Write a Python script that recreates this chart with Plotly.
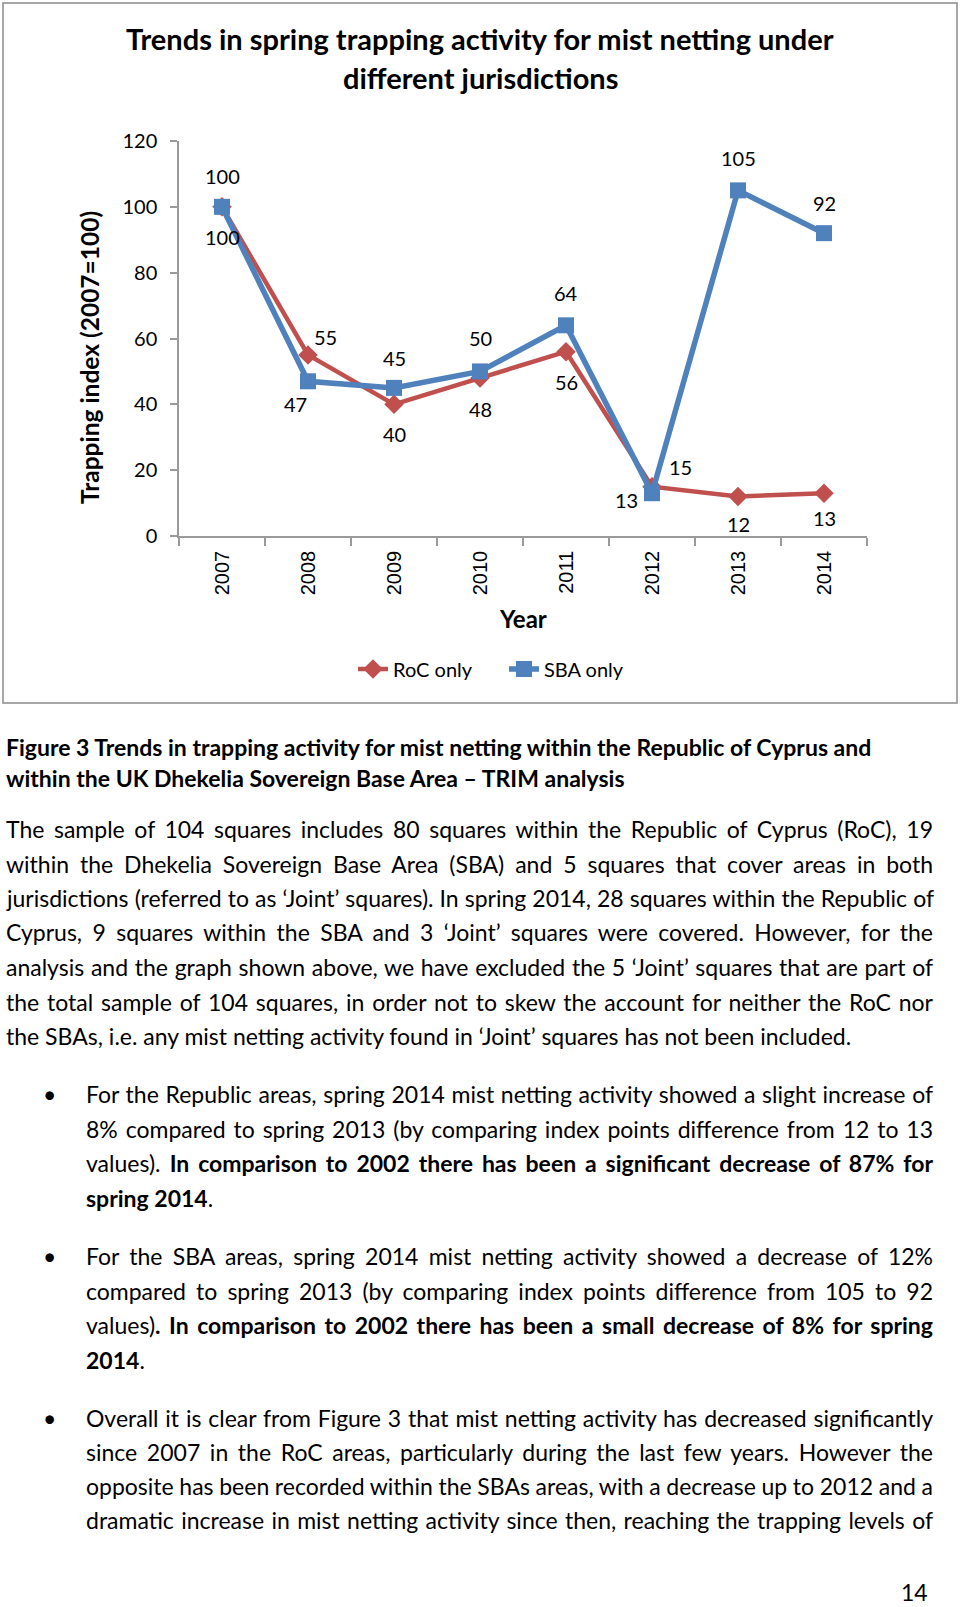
import json
import plotly.graph_objects as go

years = ["2007", "2008", "2009", "2010", "2011", "2012", "2013", "2014"]
roc_only = [100, 55, 40, 48, 56, 15, 12, 13]
sba_only = [100, 47, 45, 50, 64, 13, 105, 92]
y_ticks = [0, 20, 40, 60, 80, 100, 120]

# label offsets (px) relative to marker: (dx, dy screen-down)
roc_off = [(0, 30), (17, -18), (0, 30), (0, 31), (0, 30), (28, -20), (0, 27), (0, 25)]
sba_off = [(0, -31), (-13, 23), (0, -30), (0, -33), (0, -32), (-26, 7), (0, -32), (0, -30)]

W_FIG, H_FIG = 960, 1607
L, R, T, B = 179, 867, 141, 536
PW, PH = R - L, B - T


def px(x):
    return (x - L) / PW


def py(y):
    return (B - y) / PH


FONT = "Lato"
RED = "#C0504D"
BLUE = "#4F81BD"
AX = "#9A9A9A"

fig = go.Figure()
fig.add_trace(go.Scatter(x=years, y=roc_only, name="RoC only", mode="lines+markers",
                         line=dict(color=RED, width=4.5),
                         marker=dict(symbol="diamond", size=15, color=RED)))
fig.add_trace(go.Scatter(x=years, y=sba_only, name="SBA only", mode="lines+markers",
                         line=dict(color=BLUE, width=5.5),
                         marker=dict(symbol="square", size=16, color=BLUE)))

ann = []
for i, (v, (dx, dy)) in enumerate(zip(roc_only, roc_off)):
    ann.append(dict(x=i, y=v, xref="x", yref="y", text=str(v), showarrow=False,
                    xshift=dx, yshift=-dy, font=dict(family=FONT, size=20, color="black")))
for i, (v, (dx, dy)) in enumerate(zip(sba_only, sba_off)):
    ann.append(dict(x=i, y=v, xref="x", yref="y", text=str(v), showarrow=False,
                    xshift=dx, yshift=-dy, font=dict(family=FONT, size=20, color="black")))

# chart title
for txt, yy in [("Trends in spring trapping activity for mist netting under", 39),
                ("different jurisdictions", 77)]:
    ann.append(dict(x=px(480), y=py(yy), xref="paper", yref="paper", text="<b>" + txt + "</b>",
                    showarrow=False, xanchor="center", yanchor="middle",
                    font=dict(family=FONT, size=29, color="black")))

# axis titles
ann.append(dict(x=px(89), y=py(358), xref="paper", yref="paper", text="<b>Trapping index (2007=100)</b>",
                showarrow=False, textangle=-90, xanchor="center", yanchor="middle",
                font=dict(family=FONT, size=24.5, color="black")))
ann.append(dict(x=px(523), y=py(618), xref="paper", yref="paper", text="<b>Year</b>",
                showarrow=False, xanchor="center", yanchor="middle",
                font=dict(family=FONT, size=24, color="black")))

BODY = 23
# (left x, centre y, justified?, text)
body_lines = [
    (4, 747, False, "<b>Figure 3 Trends in trapping activity for mist netting within the Republic of Cyprus and</b>"),
    (4, 778, False, "<b>within the UK Dhekelia Sovereign Base Area – TRIM analysis</b>"),
    (4, 829, True, "The sample of 104 squares includes 80 squares within the Republic of Cyprus (RoC), 19"),
    (4, 864, True, "within the Dhekelia Sovereign Base Area (SBA) and 5 squares that cover areas in both"),
    (4, 898, True, "jurisdictions (referred to as ‘Joint’ squares). In spring 2014, 28 squares within the Republic of"),
    (4, 932, True, "Cyprus, 9 squares within the SBA and 3 ‘Joint’ squares were covered. However, for the"),
    (4, 967, True, "analysis and the graph shown above, we have excluded the 5 ‘Joint’ squares that are part of"),
    (4, 1002, True, "the total sample of 104 squares, in order not to skew the account for neither the RoC nor"),
    (4, 1036, False, "the SBAs, i.e. any mist netting activity found in ‘Joint’ squares has not been included."),
    (84, 1094, True, "For the Republic areas, spring 2014 mist netting activity showed a slight increase of"),
    (84, 1129, True, "8% compared to spring 2013 (by comparing index points difference from 12 to 13"),
    (84, 1163, True, "values). <b>In comparison to 2002 there has been a significant decrease of 87% for</b>"),
    (84, 1198, False, "<b>spring 2014</b>."),
    (84, 1256, True, "For the SBA areas, spring 2014 mist netting activity showed a decrease of 12%"),
    (84, 1291, True, "compared to spring 2013 (by comparing index points difference from 105 to 92"),
    (84, 1325, True, "values)<b>. In comparison to 2002 there has been a small decrease of 8% for spring</b>"),
    (84, 1360, False, "<b>2014</b>."),
    (84, 1418, True, "Overall it is clear from Figure 3 that mist netting activity has decreased significantly"),
    (84, 1452, True, "since 2007 in the RoC areas, particularly during the last few years. However the"),
    (84, 1486, True, "opposite has been recorded within the SBAs areas, with a decrease up to 2012 and a"),
    (84, 1520, True, "dramatic increase in mist netting activity since then, reaching the trapping levels of"),
]
TEXT_RIGHT = 931
targets = []
for xx, yy, just, txt in body_lines:
    if just:
        targets.append([len(ann), TEXT_RIGHT - xx])
    ann.append(dict(x=px(xx), y=py(yy), xref="paper", yref="paper", text=txt, showarrow=False,
                    xanchor="left", yanchor="middle", align="left",
                    font=dict(family=FONT, size=BODY, color="black")))
for yy in [1094, 1256, 1418]:
    ann.append(dict(x=px(49), y=py(yy), xref="paper", yref="paper", text="•", showarrow=False,
                    xanchor="center", yanchor="middle",
                    font=dict(family=FONT, size=BODY, color="black")))
ann.append(dict(x=px(930), y=py(1592), xref="paper", yref="paper", text="14", showarrow=False,
                xanchor="right", yanchor="middle", font=dict(family=FONT, size=BODY, color="black")))

shapes = [dict(type="rect", xref="paper", yref="paper", x0=px(3), x1=px(957), y0=py(703), y1=py(3),
               line=dict(color="#8A8A8A", width=1.5), fillcolor="rgba(0,0,0,0)", layer="below")]

fig.update_layout(
    width=W_FIG, height=H_FIG,
    margin=dict(l=L, r=W_FIG - R, t=T, b=H_FIG - B, autoexpand=False),
    paper_bgcolor="white", plot_bgcolor="white",
    font=dict(family=FONT, size=20, color="black"),
    showlegend=True,
    legend=dict(orientation="h", x=px(353), y=py(669), xanchor="left", yanchor="middle",
                font=dict(family=FONT, size=20, color="black"), bgcolor="rgba(0,0,0,0)",
                itemwidth=30, entrywidth=106),
    annotations=ann,
    shapes=shapes,
    xaxis=dict(type="category", categoryorder="array", categoryarray=years, range=[-0.5, 7.5],
               tickson="boundaries", ticks="outside", ticklen=8, tickcolor=AX, tickwidth=1.5,
               showline=True, linecolor=AX, linewidth=1.5, showgrid=False, zeroline=False,
               tickangle=-90, ticklabelstandoff=5,
               tickfont=dict(family="Liberation Sans", size=20, color="black")),
    yaxis=dict(range=[0, 120], tickvals=y_ticks, ticks="outside", ticklen=7, tickcolor=AX,
               tickwidth=1.5, showline=True, linecolor=AX, linewidth=1.5, showgrid=False,
               zeroline=False, ticklabelstandoff=9,
               tickfont=dict(family=FONT, size=20, color="black")),
)

post_js = """
document.body.style.margin = '0';
var gd = document.getElementById('{plot_id}');
var T = %s;
T.forEach(function (t) {
  var g = gd.querySelector('g.annotation[data-index="' + t[0] + '"]');
  if (!g) return;
  var txt = g.querySelector('text');
  if (!txt) return;
  var w = txt.getComputedTextLength();
  var n = (txt.textContent.match(/ /g) || []).length;
  if (n > 0) txt.style.wordSpacing = ((t[1] - w) / n) + 'px';
});
""" % json.dumps(targets)

fig.write_html("out.html", post_script=post_js, config={"displayModeBar": False})
